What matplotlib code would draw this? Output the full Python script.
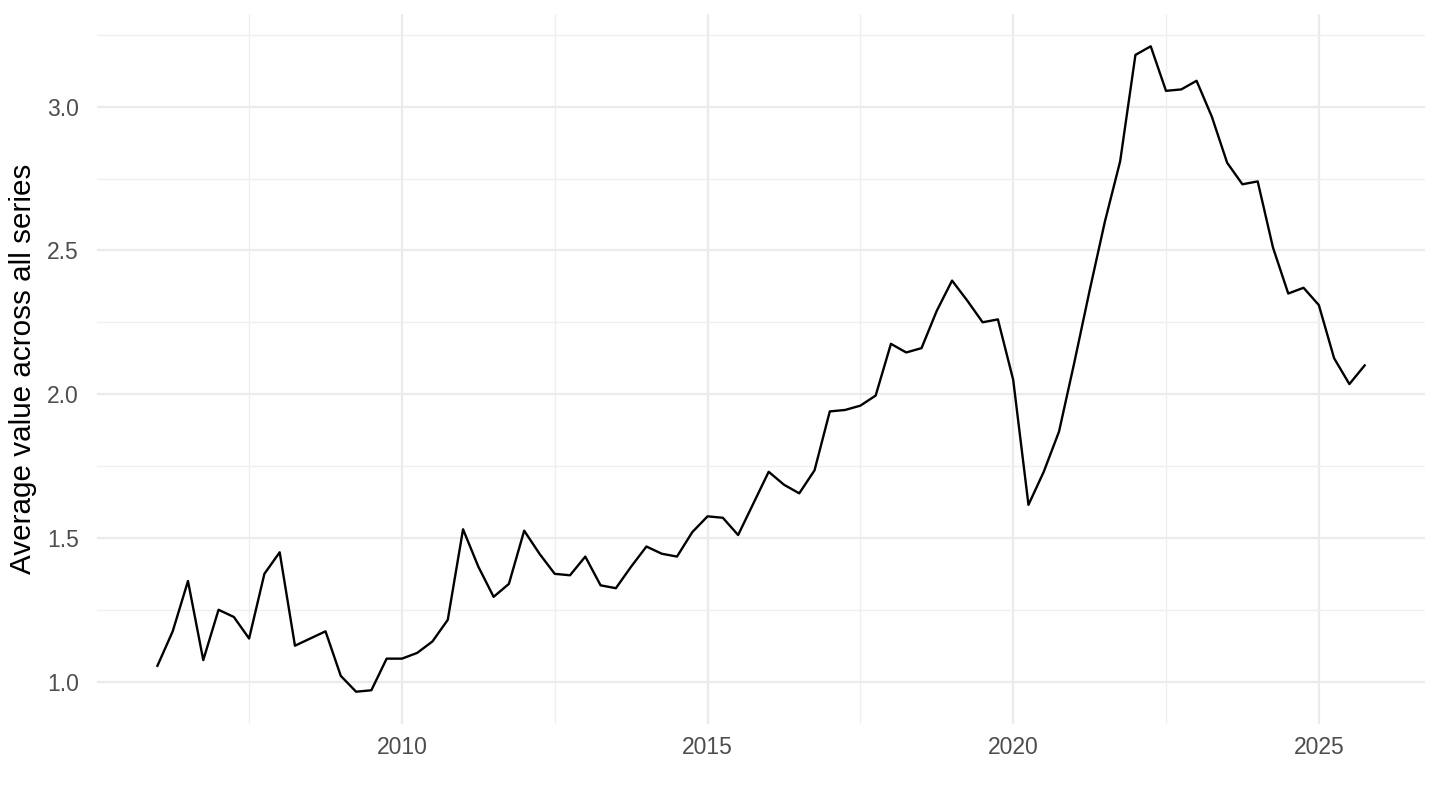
import numpy as np
import matplotlib.pyplot as plt
from matplotlib.ticker import MultipleLocator

plt.rcParams['font.family'] = ['Liberation Sans', 'DejaVu Sans']

# quarterly averages, 2006 Q1 .. 2025 Q4
start_year = 2006
values = [
    1.055, 1.175, 1.35, 1.075,   # 2006
    1.25, 1.225, 1.15, 1.375,    # 2007
    1.45, 1.125, 1.15, 1.175,    # 2008
    1.02, 0.965, 0.97, 1.08,     # 2009
    1.08, 1.10, 1.14, 1.215,     # 2010
    1.53, 1.40, 1.295, 1.34,     # 2011
    1.525, 1.445, 1.375, 1.37,   # 2012
    1.435, 1.335, 1.325, 1.40,   # 2013
    1.47, 1.445, 1.435, 1.52,    # 2014
    1.575, 1.57, 1.51, 1.62,     # 2015
    1.73, 1.685, 1.655, 1.735,   # 2016
    1.94, 1.945, 1.96, 1.995,    # 2017
    2.175, 2.145, 2.16, 2.29,    # 2018
    2.395, 2.325, 2.25, 2.26,    # 2019
    2.05, 1.615, 1.73, 1.87,     # 2020
    2.11, 2.36, 2.60, 2.81,      # 2021
    3.18, 3.21, 3.055, 3.06,     # 2022
    3.09, 2.965, 2.805, 2.73,    # 2023
    2.74, 2.51, 2.35, 2.37,      # 2024
    2.31, 2.125, 2.035, 2.10,    # 2025
]
dates = start_year + np.arange(len(values)) / 4.0

fig = plt.figure(figsize=(14.4, 8.1), dpi=100)
ax = fig.add_axes([0.0674, 0.1062, 0.9222, 0.8765])

ax.plot(dates, values, color="black", lw=1.7)

# ggplot-style 5% expansion
xr = dates[-1] - dates[0]
ax.set_xlim(dates[0] - 0.05 * xr, dates[-1] + 0.05 * xr)
yr = max(values) - min(values)
ax.set_ylim(min(values) - 0.05 * yr, max(values) + 0.05 * yr)

ax.xaxis.set_major_locator(MultipleLocator(5))
ax.xaxis.set_minor_locator(MultipleLocator(2.5))
ax.yaxis.set_major_locator(MultipleLocator(0.5))
ax.yaxis.set_minor_locator(MultipleLocator(0.25))
ax.yaxis.set_major_formatter(plt.FuncFormatter(lambda v, p: f"{v:.1f}"))

ax.grid(which="major", color="#EBEBEB", lw=1.6)
ax.grid(which="minor", color="#EFEFEF", lw=0.9)
ax.set_axisbelow(True)
for s in ax.spines.values():
    s.set_visible(False)
ax.tick_params(which="both", length=0)
ax.tick_params(axis="x", labelsize=16.5, labelcolor="#4D4D4D", pad=9)
ax.tick_params(axis="y", labelsize=16.5, labelcolor="#4D4D4D", pad=13)

ax.set_ylabel("Average value across all series", fontsize=21.3, color="black", labelpad=7)

fig.savefig("out.png", dpi=100)
